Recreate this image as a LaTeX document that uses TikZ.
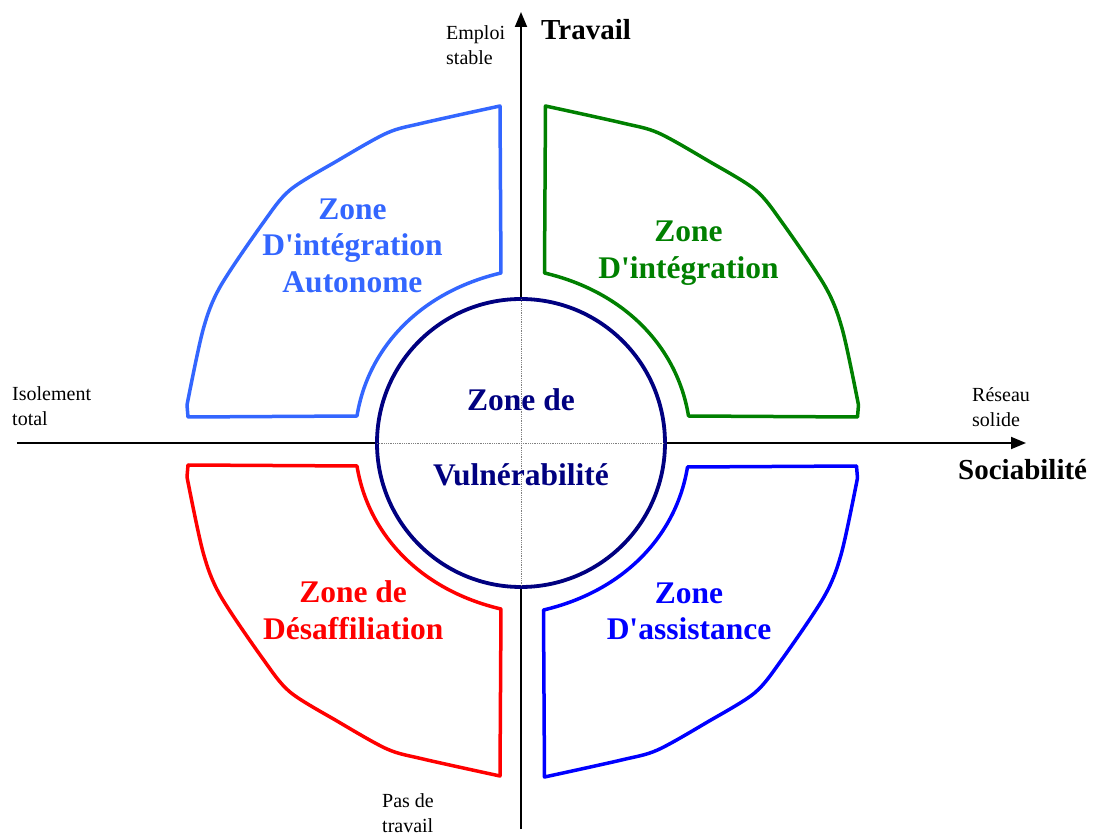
\documentclass[tikz,border=0pt]{standalone}
\usepackage{xcolor}
\usepackage{tikz}
\usepackage{fontspec}
\setmainfont{Liberation Serif}
\usetikzlibrary{arrows.meta, positioning}

\definecolor{autonome}{RGB}{51,102,255}
\definecolor{integration}{RGB}{0,128,0}
\definecolor{desaffil}{RGB}{255,0,0}
\definecolor{assistance}{RGB}{0,0,255}
\definecolor{vulner}{RGB}{0,0,128}

% outline of the upper left zone, the others are mirrored
\newcommand{\zoneshape}{(-21,337) -- (-20,170) .. controls (-101,151) and (-153,95) .. (-164,27) -- (-333,26)
  -- plot[smooth, tension=0.5] coordinates {(-334,38) (-318,113) (-301,156) (-258,220) (-231,253) (-184,282) (-134,310) (-98,320) (-21,337)} -- cycle}

\begin{document}
\begin{tikzpicture}[x=1pt,y=1pt,
    axis/.style={line width=1.8pt, -{Triangle[length=15pt,width=12pt]}},
    zoneline/.style={line width=3.5pt, line join=round},
    zonelabel/.style={font=\fontsize{31.5}{36.5}\selectfont\bfseries, align=center, inner sep=0pt},
    endlabel/.style={font=\fontsize{20}{25}\selectfont, align=left, inner sep=0pt, anchor=north west},
    axislabel/.style={font=\fontsize{29}{34}\selectfont\bfseries, inner sep=0pt, anchor=base west}]

  \useasboundingbox (-521,-392) rectangle (572,443);

  % axes
  \coordinate (west) at (-504,0);
  \coordinate (east) at (505,0);
  \coordinate (south) at (0,-386);
  \coordinate (north) at (0,431);
  \draw[axis] (west) -- (east);
  \draw[axis] (south) -- (north);

  % zones
  \begin{scope}[zoneline]
    \draw[autonome] \zoneshape;
    \draw[integration, xshift=3.5pt, xscale=-1] \zoneshape;
    \draw[desaffil, yshift=4pt, yscale=-1] \zoneshape;
    \draw[assistance, xshift=2.5pt, yshift=3pt, xscale=-1, yscale=-1] \zoneshape;
  \end{scope}

  % centre circle
  \node[draw=vulner, fill=white, circle, line width=3.8pt, minimum size=288pt, inner sep=0pt] (vuln) at (0,0) {};
  \begin{scope}[gray, densely dotted, line width=0.8pt, shorten <=2pt, shorten >=2pt]
    \draw (vuln.north) -- (vuln.south);
    \draw (vuln.west) -- (vuln.east);
  \end{scope}

  \begin{scope}[every node/.style={zonelabel}]
    \node[text=vulner, anchor=base] (vulntop) at (0,32.3) {Zone de};
    \node[text=vulner, anchor=base] (vulnbot) at (0,-42.7) {Vulnérabilité};
    \node[text=autonome] (autolabel) at (-168.5,197.4) {Zone\\D\textquotesingle intégration\\Autonome};
    \node[text=integration] (integlabel) at (167.5,190) {Zone\\D\textquotesingle intégration};
    \node[text=desaffil] (desaflabel) at (-167.8,-167.3) {Zone de\\Désaffiliation};
    \node[text=assistance] (assistlabel) at (168,-168.4) {Zone\\D\textquotesingle assistance};
  \end{scope}

  % axis labels
  \node[axislabel] (travail) at (20,403) {Travail};
  \node[axislabel] (sociab) at (437,-37) {Sociabilité};
  \node[endlabel] (emploi) at (-75,417.7) {Emploi\\stable};
  \node[endlabel] (isolement) at (-509,56.7) {Isolement\\total};
  \node[endlabel] (reseau) at (451,55.6) {Réseau\\solide};
  \node[endlabel] (pasde) at (-139,-350.5) {Pas de\\travail};
\end{tikzpicture}
\end{document}
